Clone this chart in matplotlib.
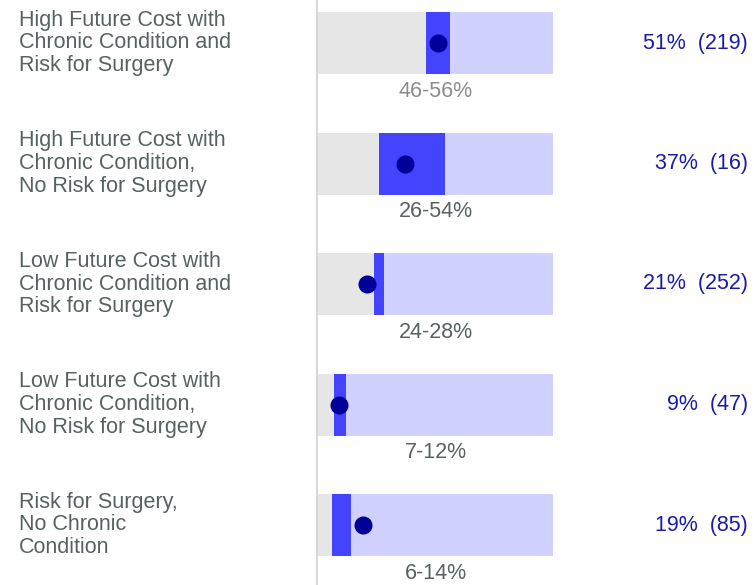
import matplotlib.pyplot as plt
import matplotlib.transforms as mtransforms

plt.rcParams['font.family'] = ['Liberation Sans', 'DejaVu Sans']

# data
labels = ['High Future Cost with\nChronic Condition and\nRisk for Surgery',
          'High Future Cost with\nChronic Condition,\nNo Risk for Surgery',
          'Low Future Cost with\nChronic Condition and\nRisk for Surgery',
          'Low Future Cost with\nChronic Condition,\nNo Risk for Surgery',
          'Risk for Surgery,\nNo Chronic\nCondition']
estimate = [51, 37, 21, 9, 19]
ci_low = [46, 26, 24, 7, 6]
ci_high = [56, 54, 28, 12, 14]
counts = [219, 16, 252, 47, 85]

W, H = 754, 585
fig = plt.figure(figsize=(W / 100, H / 100), dpi=100)
ax = fig.add_axes([318 / W, 0, 235 / W, 1])
ax.set_xlim(0, 100)
ax.set_ylim((H - 43) / 120.5, -43 / 120.5)
ax.axis('off')

bh = 62 / 120.5
fs = 15.5
left_tr = mtransforms.blended_transform_factory(fig.transFigure, ax.transData)

for i in range(len(labels)):
    # gray up to the lower bound, blue interval, lavender to 100
    ax.barh(i, ci_low[i], height=bh, left=0, color='#e6e6e6')
    ax.barh(i, ci_high[i] - ci_low[i], height=bh, left=ci_low[i], color='#4444ff')
    ax.barh(i, 100 - ci_high[i], height=bh, left=ci_high[i], color='#d1d1ff')
    ax.plot(estimate[i], i, 'o', color='#000099', markersize=12, zorder=5)

    ci_col = '#8c8c8c' if i == 0 else '#576161'
    ax.text(50, i + 0.4, f'{ci_low[i]}-{ci_high[i]}%', ha='center', va='center',
            fontsize=fs, color=ci_col)
    ax.text(19 / W, i, labels[i], transform=left_tr, ha='left', va='center',
            fontsize=fs, color='#576161', linespacing=1.1)
    ax.text(748 / W, i, f'{estimate[i]}%  ({counts[i]})', transform=left_tr,
            ha='right', va='center', fontsize=fs, color='#1a1aaa')

ax.axvline(-0.6, color='#d0d0d0', linewidth=1.2, clip_on=False)

fig.savefig('out.png', dpi=100)
